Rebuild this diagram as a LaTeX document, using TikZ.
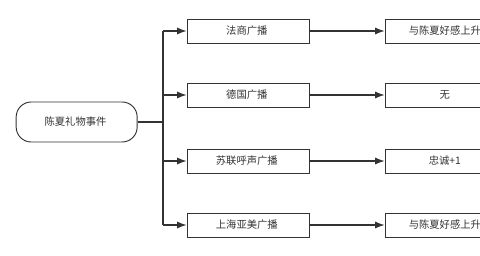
\documentclass[tikz,border=0pt]{standalone}
\usepackage{fontspec}
\newfontfamily\cjk{Noto Sans CJK SC}
\usepackage{tikz}
\usetikzlibrary{arrows.meta,calc,positioning}
\definecolor{linegray}{HTML}{333333}
\definecolor{textgray}{HTML}{333333}
\tikzset{
  event node/.style={
    rectangle,
    rounded corners=4.5mm,
    draw=linegray,
    fill=white,
    line width=0.8pt,
    minimum width=3.63cm,
    minimum height=1.2cm,
    align=center,
    text=textgray,
    font=\cjk\fontsize{8.8pt}{10pt}\selectfont
  }
}
\tikzset{
  radio node/.style={
    rectangle,
    draw=linegray,
    fill=white,
    line width=0.8pt,
    minimum width=3.66cm,
    minimum height=0.72cm,
    align=center,
    text=textgray,
    font=\cjk\fontsize{8.8pt}{10pt}\selectfont
  }
}
\tikzset{
  branch/.style={
    draw=linegray,
    line width=0.9pt
  }
}
\tikzset{
  result arrow/.style={
    -{Latex[length=2.8mm,width=2.1mm]},
    draw=linegray,
    line width=0.9pt
  }
}

\begin{document}
\begin{tikzpicture}

    % ------------------------------------------------------------
    % Frame
    % ------------------------------------------------------------

    \useasboundingbox (0,0) rectangle (14.4,-7.68);
    \clip (0,0) rectangle (14.4,-7.68);

    % ------------------------------------------------------------
    % Nodes
    % ------------------------------------------------------------

    \node[event node] (event) at (2.3,-3.66)
    {
      陈夏礼物事件
    };

    \node[radio node] (french) at (7.44,-0.93)
    {
      法商广播
    };

    \node[radio node] (german) at (7.44,-2.85)
    {
      德国广播
    };

    \node[radio node] (soviet) at (7.44,-4.83)
    {
      苏联呼声广播
    };

    \node[radio node] (shanghai) at (7.44,-6.75)
    {
      上海亚美广播
    };

    % Result boxes run past the right edge
    \node[radio node] (resFrench) at (13.38,-0.93)
    {
      与陈夏好感上升
    };

    \node[radio node] (resGerman) at (13.38,-2.85)
    {
      无
    };

    \node[radio node] (resSoviet) at (13.38,-4.83)
    {
      忠诚+1
    };

    \node[radio node] (resShanghai) at (13.38,-6.75)
    {
      与陈夏好感上升
    };

    \coordinate (trunk) at (4.89,-3.66);

    % ------------------------------------------------------------
    % Branches
    % ------------------------------------------------------------

    \draw[branch] (event.east) -- (trunk);
    \draw[branch] (trunk |- french.west) -- (trunk |- shanghai.west);

    \foreach \radio in {french,german,soviet,shanghai}
    {
      \draw[result arrow] (trunk |- \radio.west) -- (\radio.west);
    }

    % ------------------------------------------------------------
    % Results
    % ------------------------------------------------------------

    \draw[result arrow] (french.east) -- (resFrench.west);
    \draw[result arrow] (german.east) -- (resGerman.west);
    \draw[result arrow] (soviet.east) -- (resSoviet.west);
    \draw[result arrow] (shanghai.east) -- (resShanghai.west);

\end{tikzpicture}
\end{document}
